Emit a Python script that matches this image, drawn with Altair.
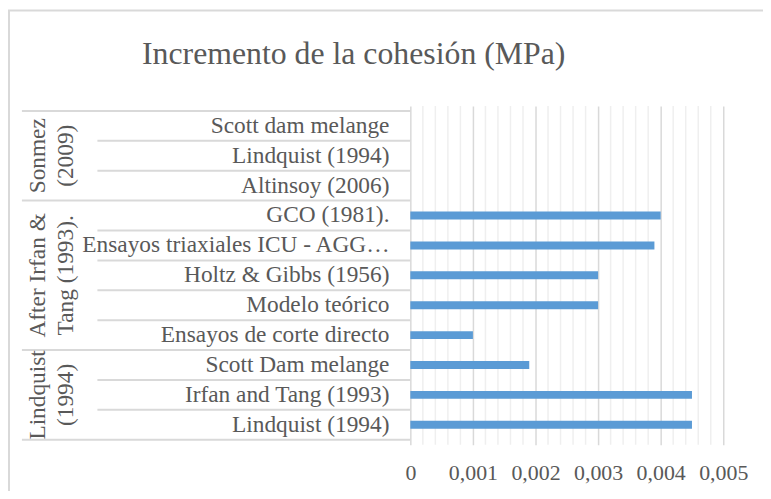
import altair as alt
import pandas as pd

title_text = "Incremento de la cohesión (MPa)"
categories = [
    "Scott dam melange", "Lindquist (1994)", "Altinsoy (2006)",
    "GCO (1981).", "Ensayos triaxiales ICU - AGG…", "Holtz & Gibbs (1956)",
    "Modelo teórico", "Ensayos de corte directo",
    "Scott Dam melange", "Irfan and Tang (1993)", "Lindquist (1994)",
]
values = [None, None, None, 0.004, 0.0039, 0.003, 0.003, 0.001, 0.0019, 0.0045, 0.0045]
groups = ["Sonmez\n(2009)", "After Irfan &\nTang (1993).", "Lindquist\n(1994)"]
group_sizes = [3, 5, 3]
x_ticks = [0, 0.001, 0.002, 0.003, 0.004, 0.005]
x_minor = [0.0002, 0.0004, 0.0006, 0.0008,
           0.0012, 0.0014, 0.0016, 0.0018,
           0.0022, 0.0024, 0.0026, 0.0028,
           0.0032, 0.0034, 0.0036, 0.0038,
           0.0042, 0.0044, 0.0046, 0.0048]

FONT = "'Liberation Serif', 'Times New Roman', 'DejaVu Serif', 'Noto Serif', serif"
GREY = "#595959"
LINE = "#d9d9d9"

n = len(categories)
rows = pd.DataFrame({"label": categories, "v": values, "c": [i + 0.5 for i in range(n)]})

starts = []
s = 0
for g in group_sizes:
    starts.append(s)
    s += g
gdf = pd.DataFrame({"g": groups, "gc": [st + sz / 2 for st, sz in zip(starts, group_sizes)]})
outer = starts + [n]
inner = [b for b in range(1, n) if b not in outer]
outer_df = pd.DataFrame({"b": outer})
inner_df = pd.DataFrame({"b": inner})
minor_df = pd.DataFrame({"m": x_minor})

yscale = alt.Scale(domain=[0, n], reverse=True, nice=False, zero=False)
xscale = alt.Scale(domain=[0, 0.005], nice=False)

xaxis = alt.Axis(
    orient="bottom", values=x_ticks, grid=True, gridColor=LINE, gridWidth=1.5,
    ticks=False, domain=False, title=None, labelFont=FONT, labelFontSize=22,
    labelColor=GREY, labelPadding=18, labelFlush=False, labelOverlap=False,
    labelExpr="replace(format(datum.value, '~g'), '.', ',')")

minor = alt.Chart(minor_df).mark_rule(color="#efefef", strokeWidth=1.5).encode(
    x=alt.X("m:Q", scale=xscale, axis=xaxis),
)

bars = alt.Chart(rows).mark_bar(orient="horizontal", size=8, color="#5b9bd5").encode(
    x=alt.X("v:Q", scale=xscale, axis=xaxis),
    y=alt.Y("c:Q", scale=yscale, axis=None),
)

outer_rules = alt.Chart(outer_df).mark_rule(color=LINE, strokeWidth=2).encode(
    y=alt.Y("b:Q", scale=yscale, axis=None), x=alt.value(-391), x2=alt.value(0))
inner_rules = alt.Chart(inner_df).mark_rule(color=LINE, strokeWidth=2).encode(
    y=alt.Y("b:Q", scale=yscale, axis=None), x=alt.value(-315), x2=alt.value(0))

cat_text = alt.Chart(rows).mark_text(
    align="right", baseline="middle", font=FONT, fontSize=23.5, color=GREY
).encode(y=alt.Y("c:Q", scale=yscale, axis=None), x=alt.value(-21), text="label:N")

grp_text = alt.Chart(gdf).mark_text(
    angle=270, align="center", baseline="middle", font=FONT, fontSize=23.5,
    color=GREY, lineBreak="\n", lineHeight=28
).encode(y=alt.Y("gc:Q", scale=yscale, axis=None), x=alt.value(-375), text="g:N")

title_mark = alt.Chart(pd.DataFrame({"t": [title_text]})).mark_text(
    align="center", baseline="alphabetic", font=FONT, fontSize=32, color=GREY
).encode(x=alt.value(-57), y=alt.value(-42), text="t:N")

border = alt.Chart(pd.DataFrame({"a": [0]})).mark_rect(
    filled=False, stroke=LINE, strokeWidth=2
).encode(x=alt.value(-404), x2=alt.value(420), y=alt.value(-96), y2=alt.value(460))

chart = alt.layer(
    border, minor, outer_rules, inner_rules, bars, cat_text, grp_text, title_mark
).properties(
    width=315, height=341,
    autosize=alt.AutoSizeParams(type="none"),
    padding={"left": 405, "top": 97, "right": 40, "bottom": 45},
    background="white",
).configure_view(stroke=None)

chart.save("out.html", embed_options={"renderer": "svg", "actions": False})
